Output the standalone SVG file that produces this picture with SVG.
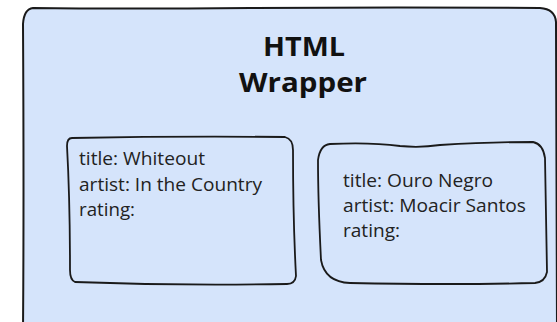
<svg xmlns="http://www.w3.org/2000/svg" width="557" height="322" viewBox="0 0 557 322">
<style>
.box{fill:#d5e4fb;stroke:#1a1a1a;stroke-width:2;stroke-linecap:round;stroke-linejoin:round}
.card{fill:none;stroke:#1a1a1a;stroke-width:1.8;stroke-linecap:round;stroke-linejoin:round}
.t{font-family:"Open Sans","Noto Sans","Liberation Sans",sans-serif;font-size:18px;fill:#222}
.h{font-family:"Open Sans","Noto Sans","Liberation Sans",sans-serif;font-size:26px;font-weight:bold;fill:#111}
</style>
<rect width="557" height="322" fill="#ffffff"/>
<g id="wrapper">
<path class="box" d="M33 8 Q120 9 250 8 Q400 7 540 8 Q555 9 556 22 L557 330 L23 330 Q24 200 23 24 Q24 9 33 8 Z"/>
<text class="h" x="263" y="56" textLength="82" lengthAdjust="spacingAndGlyphs">HTML</text>
<text class="h" x="239" y="92" textLength="128" lengthAdjust="spacingAndGlyphs">Wrapper</text>
</g>
<g id="card1">
<path class="card" d="M72 138 Q180 136 285 137 Q293 139 293 150 Q293 220 296 276 Q295 284 287 284 Q180 286 75 282 Q70 280 70 270 Q70 200 67 146 Q67 138 72 138 Z"/>
<text class="t" x="79" y="165" textLength="126" lengthAdjust="spacingAndGlyphs">title: Whiteout</text>
<text class="t" x="79" y="191" textLength="183" lengthAdjust="spacingAndGlyphs">artist: In the Country</text>
<text class="t" x="79" y="216" textLength="56" lengthAdjust="spacingAndGlyphs">rating:</text>
</g>
<g id="card2">
<path class="card" d="M330 144 Q370 142 400 146 Q420 148 440 145 Q490 142 533 142 Q543 144 545 158 Q546 220 547 272 Q545 282 535 283 Q450 285 350 283 Q325 282 321 260 Q318 200 318 160 Q320 145 330 144 Z"/>
<text class="t" x="343" y="187" textLength="150" lengthAdjust="spacingAndGlyphs">title: Ouro Negro</text>
<text class="t" x="343" y="212" textLength="183" lengthAdjust="spacingAndGlyphs">artist: Moacir Santos</text>
<text class="t" x="343" y="237" textLength="57" lengthAdjust="spacingAndGlyphs">rating:</text>
</g>
<g id="connectors"/>
</svg>
